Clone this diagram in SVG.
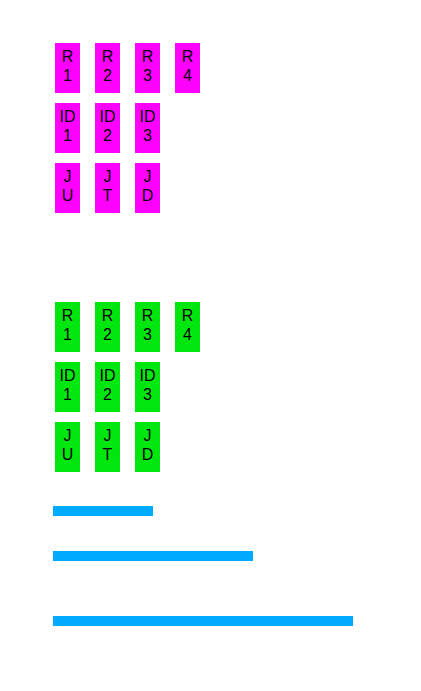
<svg xmlns="http://www.w3.org/2000/svg" width="421" height="691" viewBox="0 0 421 691">
<style>
.m{fill:#ff00ff}
.g{fill:#00e60f}
.b{fill:#00aaff}
text{font-family:"Liberation Sans",Arial,sans-serif;font-size:16px;fill:#000;text-anchor:middle}
</style>
<rect width="421" height="691" fill="#fff"/>
<g id="magenta">
<g id="m-r1"><rect class="m" x="55" y="43" width="25" height="50"/><text x="67.5" y="61.5">R</text><text x="67.5" y="80.5">1</text></g>
<g id="m-r2"><rect class="m" x="95" y="43" width="25" height="50"/><text x="107.5" y="61.5">R</text><text x="107.5" y="80.5">2</text></g>
<g id="m-r3"><rect class="m" x="135" y="43" width="25" height="50"/><text x="147.5" y="61.5">R</text><text x="147.5" y="80.5">3</text></g>
<g id="m-r4"><rect class="m" x="175" y="43" width="25" height="50"/><text x="187.5" y="61.5">R</text><text x="187.5" y="80.5">4</text></g>
<g id="m-id1"><rect class="m" x="55" y="103" width="25" height="50"/><text x="67.5" y="121.5">ID</text><text x="67.5" y="140.5">1</text></g>
<g id="m-id2"><rect class="m" x="95" y="103" width="25" height="50"/><text x="107.5" y="121.5">ID</text><text x="107.5" y="140.5">2</text></g>
<g id="m-id3"><rect class="m" x="135" y="103" width="25" height="50"/><text x="147.5" y="121.5">ID</text><text x="147.5" y="140.5">3</text></g>
<g id="m-ju"><rect class="m" x="55" y="163" width="25" height="50"/><text x="67.5" y="181.5">J</text><text x="67.5" y="200.5">U</text></g>
<g id="m-jt"><rect class="m" x="95" y="163" width="25" height="50"/><text x="107.5" y="181.5">J</text><text x="107.5" y="200.5">T</text></g>
<g id="m-jd"><rect class="m" x="135" y="163" width="25" height="50"/><text x="147.5" y="181.5">J</text><text x="147.5" y="200.5">D</text></g>
</g>
<g id="green">
<g id="g-r1"><rect class="g" x="55" y="302" width="25" height="50"/><text x="67.5" y="320.5">R</text><text x="67.5" y="339.5">1</text></g>
<g id="g-r2"><rect class="g" x="95" y="302" width="25" height="50"/><text x="107.5" y="320.5">R</text><text x="107.5" y="339.5">2</text></g>
<g id="g-r3"><rect class="g" x="135" y="302" width="25" height="50"/><text x="147.5" y="320.5">R</text><text x="147.5" y="339.5">3</text></g>
<g id="g-r4"><rect class="g" x="175" y="302" width="25" height="50"/><text x="187.5" y="320.5">R</text><text x="187.5" y="339.5">4</text></g>
<g id="g-id1"><rect class="g" x="55" y="362" width="25" height="50"/><text x="67.5" y="380.5">ID</text><text x="67.5" y="399.5">1</text></g>
<g id="g-id2"><rect class="g" x="95" y="362" width="25" height="50"/><text x="107.5" y="380.5">ID</text><text x="107.5" y="399.5">2</text></g>
<g id="g-id3"><rect class="g" x="135" y="362" width="25" height="50"/><text x="147.5" y="380.5">ID</text><text x="147.5" y="399.5">3</text></g>
<g id="g-ju"><rect class="g" x="55" y="422" width="25" height="50"/><text x="67.5" y="440.5">J</text><text x="67.5" y="459.5">U</text></g>
<g id="g-jt"><rect class="g" x="95" y="422" width="25" height="50"/><text x="107.5" y="440.5">J</text><text x="107.5" y="459.5">T</text></g>
<g id="g-jd"><rect class="g" x="135" y="422" width="25" height="50"/><text x="147.5" y="440.5">J</text><text x="147.5" y="459.5">D</text></g>
</g>
<g id="connectors"></g>
<g id="bars">
<rect id="bar1" class="b" x="53" y="506" width="100" height="10"/>
<rect id="bar2" class="b" x="53" y="551" width="200" height="10"/>
<rect id="bar3" class="b" x="53" y="616" width="300" height="10"/>
</g>
</svg>
